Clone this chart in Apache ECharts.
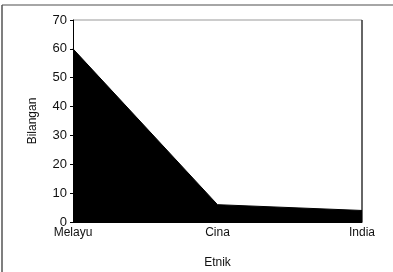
<!DOCTYPE html>
<html>
<head>
<meta charset="utf-8">
<script src="https://cdn.jsdelivr.net/npm/echarts@6/dist/echarts.min.js"></script>
<style>
  html, body { margin: 0; padding: 0; background: #fff; }
  #chart { width: 393px; height: 272px; }
</style>
</head>
<body>
<div id="chart"></div>
<script>
var categories = ['Melayu', 'Cina', 'India'];
var values = [60, 6, 4];
var yTicks = [0, 10, 20, 30, 40, 50, 60, 70];

var myChart = echarts.init(document.getElementById('chart'));
var font = 'Liberation Sans, Arial, sans-serif';

var option = {
    backgroundColor: '#fff',
    animation: false,
    grid: { left: 73, right: 31, top: 20, bottom: 50, outerBoundsMode: 'none', containLabel: false },
    // outer frame (top and left only)
    graphic: [
        { type: 'line', shape: { x1: 2, y1: 5, x2: 393, y2: 5 }, style: { stroke: '#888', lineWidth: 1.5 } },
        { type: 'line', shape: { x1: 2, y1: 5, x2: 2, y2: 272 }, style: { stroke: '#555', lineWidth: 1.5 } },
        { type: 'line', shape: { x1: 73, y1: 20, x2: 362, y2: 20 }, style: { stroke: '#999', lineWidth: 1 } },
        { type: 'line', shape: { x1: 362, y1: 20, x2: 362, y2: 222 }, style: { stroke: '#333', lineWidth: 1.5 } }
    ],
    xAxis: {
        type: 'category',
        data: categories,
        boundaryGap: false,
        name: 'Etnik',
        nameLocation: 'middle',
        nameGap: 35,
        nameTextStyle: { color: '#111', fontSize: 12, fontFamily: font },
        axisLine: { lineStyle: { color: '#000', width: 1 } },
        axisTick: { show: false },
        axisLabel: { color: '#111', fontSize: 12, fontFamily: font, margin: 5 },
        splitLine: { show: false }
    },
    yAxis: {
        type: 'value',
        min: 0,
        max: 70,
        interval: 10,
        name: 'Bilangan',
        nameLocation: 'middle',
        nameGap: 34,
        nameTextStyle: { color: '#111', fontSize: 12, fontFamily: font },
        axisLine: { show: true, lineStyle: { color: '#000', width: 1 } },
        axisTick: { show: true, length: 3, inside: false, lineStyle: { color: '#000' } },
        axisLabel: {
            color: '#111', fontSize: 13, fontFamily: font, margin: 6,
            formatter: function (v) { return yTicks.indexOf(v) >= 0 ? String(v) : ''; }
        },
        splitLine: { show: false }
    },
    series: [{
        type: 'line',
        data: values,
        symbol: 'none',
        lineStyle: { color: '#000', width: 1 },
        areaStyle: { color: '#000', opacity: 1 }
    }]
};

option && myChart.setOption(option);
window.addEventListener('resize', function () {
    myChart.resize();
});
</script>
</body>
</html>
